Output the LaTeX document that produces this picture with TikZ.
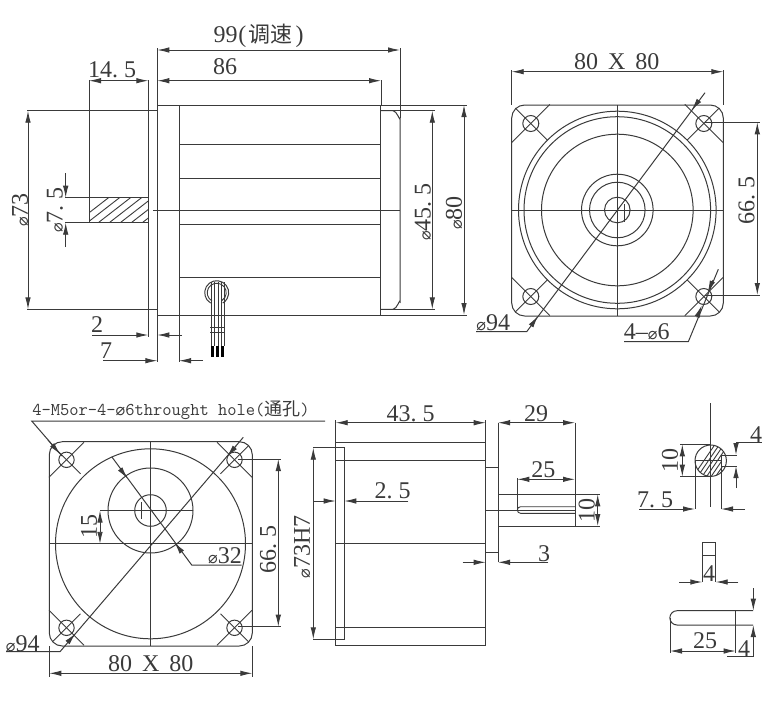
\documentclass[tikz,border=0pt]{standalone}
\usepackage{fontspec}
\newfontfamily\cjk{Noto Sans CJK SC}
\newfontfamily\dejavu{DejaVu Sans}
\newfontfamily\dimfont{Liberation Serif}
\usetikzlibrary{arrows.meta}
\definecolor{ink}{RGB}{58,58,58}
\newcommand{\dia}{{\dejavu\fontsize{16}{16}\selectfont ⌀}}
\newcommand{\pt}{.\hspace{6pt}}
\tikzset{
  dimtext/.style={inner sep=0,outer sep=0,text=ink,font=\dimfont\fontsize{24}{24}\selectfont},
  smalltext/.style={inner sep=0,outer sep=0,text=ink,font=\ttfamily\fontsize{18}{18}\selectfont},
  part/.style={draw=ink,line width=1pt},
  thin part/.style={draw=ink,line width=0.9pt},
  dimline/.style={draw=ink,line width=0.9pt,>={Latex[length=12pt,width=5.5pt]}}
}

\begin{document}
\begin{tikzpicture}[x=1pt,y=-1pt]
\useasboundingbox (0,0) rectangle (774,702);

%side view of motor
\draw [part] (157.3,48) -- (157.3,362);
\draw [part] (179,105) -- (179,362);
\draw [part] (157.3,105) -- (380,105) (157.3,315) -- (380,315);
\draw [part] (380,105) -- (380,315);
\foreach \y in {144.3,178,224.7,277.3}{
  \draw [part] (179,\y) -- (380,\y);
}
\draw [part] (153,210) -- (400,210);
\draw [part] (148.3,80) -- (148.3,337);
\draw [part] (380,110.7) -- (393,110.7) to[out=0,in=270] (400,118) -- (400,302) to[out=90,in=0] (393,309.3) -- (380,309.3);
\draw [thin part] (400,48) -- (400,118);
%shaft with hatch
\draw [part] (89,80) -- (89,222.7) -- (148.3,222.7) (89,197.7) -- (148.3,197.7);
\begin{scope}
  \clip (89,197.7) rectangle (148.3,222.7);
  \foreach \i in {0,...,8}{
    \draw [thin part] ({72+\i*11},226) -- ({112+\i*11},195);
  }
\end{scope}

%wires
\draw [part] ({216.7+12*cos(120)},{292.7+12*sin(120)}) arc[start angle=120,end angle=420,radius=12];
\draw [thin part] ({216.7+9.5*cos(120)},{292.7+9.5*sin(120)}) arc[start angle=120,end angle=420,radius=9.5];
\foreach \x in {211,214.5,218,221.5,224.5}{
  \draw [thin part] (\x,282) -- (\x,346);
}
\draw [thin part] (210,327.5) -- (225,327.5) (210,332) -- (225,332);
\draw [draw=black,line width=2.6pt] (212.7,346) -- (212.7,357.3) (217.7,346) -- (217.7,357.3) (222.7,346) -- (222.7,357.3);

%side view dimensions
\draw [part] (27,110.7) -- (157.3,110.7) (27,309.3) -- (157.3,309.3);
\draw [part] (380,105) -- (467,105) (380,315) -- (467,315);
\draw [part] (393,110.7) -- (435,110.7) (393,309.3) -- (435,309.3);
\draw [part] (381,80) -- (381,105);
\draw [part] (65,197.7) -- (89,197.7) (65,222.7) -- (89,222.7);
\draw [dimline,<->] (157.3,50) -- (400,50);
\draw [dimline,<->] (157.3,80.7) -- (381,80.7);
\draw [dimline,<->] (89,80.7) -- (148.3,80.7);
\draw [dimline,<->] (28,110.7) -- (28,309.3);
\draw [dimline,<->] (432.3,110.7) -- (432.3,309.3);
\draw [dimline,<->] (464,105) -- (464,315);
\draw [dimline,->] (65.7,173) -- (65.7,197.7);
\draw [dimline,->] (65.7,247) -- (65.7,222.7);
\draw [dimline,->] (92,335) -- (148.3,335);
\draw [dimline,->] (182,335) -- (157.3,335);
\draw [dimline,->] (103,360.7) -- (157.3,360.7);
\draw [dimline,->] (203,360.7) -- (179,360.7);

\node (t99) at (258.5,36) [dimtext] {99\hspace{1pt}(\hspace{2pt}{\cjk\fontsize{22}{22}\selectfont 调速}\hspace{3pt})};
\node (t86) at (225,67) [dimtext] {86};
\node (t145) at (112,70) [dimtext] {14\pt5};
\node (t73) at (20,210) [dimtext,rotate=90] {\dia73};
\node (t75) at (55,210) [dimtext,rotate=90] {\dia7\pt5};
\node (t455) at (423,212) [dimtext,rotate=90] {\dia45\pt5};
\node (t80) at (454,213) [dimtext,rotate=90] {\dia80};
\node (t2) at (97,325) [dimtext] {2};
\node (t7) at (106,351) [dimtext] {7};

%front view of motor
\coordinate (fc) at (617.3,210);
\draw [part,rounded corners=13] (511.7,105) rectangle (723.3,316);
\draw [part] (617.3,105) -- (617.3,316) (511.7,210) -- (723.3,210);
\foreach \r in {98.8,93.3,75.8,35.8,27.8,12.8}{
  \draw [part] (fc) circle (\r);
}
\draw [thin part] (624,204) -- (624,222);
\foreach \sx/\sy in {-1/-1,1/-1,-1/1,1/1}{
  \draw [part] ({617.3+\sx*86.5},{210+\sy*86.5}) circle (8);
  \draw [thin part] ({617.3+\sx*105.6},{210+\sy*67.5}) -- ({617.3+\sx*67.5},{210+\sy*105.6});
  \draw [thin part] ({617.3+\sx*102},{210+\sy*102}) -- ({617.3+\sx*70},{210+\sy*70});
}
%front view dimensions
\draw [part] (511.7,70) -- (511.7,105) (723.3,70) -- (723.3,105);
\draw [part] (705,122.3) -- (760,122.3) (705,295) -- (760,295);
\draw [dimline,<->] (511.7,71.7) -- (723.3,71.7);
\draw [dimline,<->] (757.3,122.3) -- (757.3,295);
\draw [part] (705,92.7) -- (526.7,331.7) -- (476,331.7);
\draw [dimline,->] (698.5,101) -- (691.7,110);
\draw [dimline,->] (531,326) -- (538,316);
\draw [part] (718.3,269.3) -- (688.3,341.7) -- (624,341.7);
\draw [dimline,->] (713,280) -- (707.7,292.5);
\draw [dimline,->] (697,317.5) -- (701.7,305.5);

\node (t8080a) at (616.7,61.7) [dimtext] {80\hspace{10pt}X\hspace{10pt}80};
\node (t665a) at (746.7,200) [dimtext,rotate=90] {66\pt5};
\node (t94a) at (493.3,322.7) [dimtext] {\dia94};
\node (t46) at (646.7,331.7) [dimtext] {4–\dia6};

%flange view
\coordinate (rc) at (150.5,543.8);
\draw [part,rounded corners=13] (49.3,441.7) rectangle (252.3,646);
\draw [part] (150.5,441.7) -- (150.5,646) (49.3,543.8) -- (252.3,543.8);
\draw [part] (rc) circle (95);
\draw [part] (150.5,510.5) circle (42.5) circle (15.8);
\draw [thin part] (141.5,502) -- (141.5,519);
\foreach \sx/\sy in {-1/-1,1/-1,-1/1,1/1}{
  \draw [part] ({150.5+\sx*84},{543.8+\sy*84}) circle (7.7);
  \draw [thin part] ({150.5+\sx*101.5},{543.8+\sy*66.5}) -- ({150.5+\sx*66.5},{543.8+\sy*101.5});
  \draw [thin part] ({150.5+\sx*98},{543.8+\sy*98}) -- ({150.5+\sx*70},{543.8+\sy*70});
}
%flange view dimensions
\draw [part] (100,510.5) -- (193,510.5);
\draw [dimline,<->] (100,510.5) -- (100,543.8);
\draw [part] (111.7,456.7) -- (191.7,565) -- (241.7,565);
\draw [dimline,->] (121,470) -- (127.5,478.5);
\draw [dimline,->] (181,551) -- (174.5,542.5);
\draw [part] (243.3,437.3) -- (60,651.7) -- (6,651.7);
\draw [dimline,->] (236,446) -- (227,456.5);
\draw [dimline,->] (68,642) -- (75.5,633.5);
\draw [part] (325,421) -- (31.7,421) -- (62,456);
\draw [dimline,->] (48,440) -- (60,454);
\draw [part] (238,459) -- (281,459) (238,626.7) -- (281,626.7);
\draw [dimline,<->] (278.3,459) -- (278.3,626.7);
\draw [part] (49.3,646) -- (49.3,677) (252.3,646) -- (252.3,677);
\draw [dimline,<->] (49.3,673.3) -- (252.3,673.3);

\node (thole) at (171,410) [smalltext] {4-M5or-4-\dia6throught hole({\cjk 通孔})};
\node (t15) at (89,526.7) [dimtext,rotate=90] {15};
\node (t32) at (225,555.7) [dimtext] {\dia32};
\node (t94b) at (22.7,643.3) [dimtext] {\dia94};
\node (t665b) at (268,549) [dimtext,rotate=90] {66\pt5};
\node (t8080b) at (150.7,663.3) [dimtext] {80\hspace{10pt}X\hspace{10pt}80};

%side view with output shaft
\draw [part] (335.7,442.3) rectangle (485.7,645.7);
\draw [part] (335.7,420) -- (335.7,442.3) (485.7,420) -- (485.7,442.3);
\foreach \y in {460,543.3,627.3}{
  \draw [part] (335.7,\y) -- (485.7,\y);
}
\draw [part] (313,447.7) -- (344.3,447.7) -- (344.3,639.3) -- (313,639.3);
\draw [part] (498,422.7) -- (498,562.3);
\draw [part] (485.7,467.7) -- (498,467.7) (485.7,552.3) -- (498,552.3);
\draw [part] (485.7,510) -- (575,510);
\draw [part] (498,494.3) -- (600,494.3) (498,526) -- (600,526);
\draw [part] (575,422.7) -- (575,526);
\draw [part] (517.3,478) -- (517.3,510);
\draw [thin part] (575,506.7) -- (520.6,506.7) arc[start angle=270,end angle=90,radius=3.3] -- (575,513.3);
%shaft dimensions
\draw [dimline,<->] (335.7,422.7) -- (485.7,422.7);
\draw [dimline,<->] (498,422.7) -- (575,422.7);
\draw [dimline,<->] (517.3,479.3) -- (575,479.3);
\draw [dimline,<->] (597.7,494.3) -- (597.7,526);
\draw [dimline,<->] (313.3,447.7) -- (313.3,639.3);
\draw [dimline,->] (313.3,501) -- (335.7,501);
\draw [dimline,->] (408.3,501) -- (344.3,501);
\draw [dimline,->] (462.7,562.3) -- (485.7,562.3);
\draw [dimline,->] (548.3,562.3) -- (498,562.3);

\node (t435) at (410.7,414) [dimtext] {43\pt5};
\node (t29) at (536,413.3) [dimtext] {29};
\node (t25a) at (543.3,469.3) [dimtext] {25};
\node (t10a) at (586.7,510) [dimtext,rotate=90] {10};
\node (t73h) at (302,547) [dimtext,rotate=90] {\dia73H7};
\node (t25b) at (392.7,491) [dimtext] {2\pt5};
\node (t3) at (544,553.3) [dimtext] {3};

%shaft section
\begin{scope}
  \clip (710.7,460.7) circle (15.7);
  \foreach \i in {0,...,12}{
    \draw [thin part] ({688+\i*4.5},484) -- ({718+\i*4.5},440);
  }
  \fill [white] (721,455) rectangle (728,466);
\end{scope}
\draw [part] (710.7,460.7) circle (15.7);
\draw [part] (710.7,403) -- (710.7,506.7);
\draw [thin part] (695,460.7) -- (721,460.7);
\draw [part] (721,455) -- (737,455) (721,466) -- (737,466);
\draw [part] (721,455) -- (721,509);
\draw [part] (695,460) -- (695,509);
\draw [part] (680,444.3) -- (710.7,444.3) (680,476.7) -- (710.7,476.7);
\draw [dimline,<->] (682.3,444.3) -- (682.3,476.7);
\draw [dimline,->] (736,442.7) -- (736,455);
\draw [dimline,->] (736,488) -- (736,466);
\draw [part] (736,442.7) -- (761.7,442.7);
\draw [dimline,->] (639.3,509) -- (695,509);
\draw [dimline,->] (745,509) -- (721,509);

\node (t10b) at (670,460) [dimtext,rotate=90] {10};
\node (t4a) at (756,434.3) [dimtext] {4};
\node (t75b) at (655,500) [dimtext] {7\pt5};

%key
\draw [part] (702.3,582) -- (702.3,542.7) -- (715.7,542.7) -- (715.7,582);
\draw [part] (702.3,555) -- (715.7,555);
\draw [dimline,->] (679.3,582) -- (702.3,582);
\draw [dimline,->] (738.3,582) -- (715.7,582);
\draw [part] (753,610.7) -- (677,610.7) arc[start angle=270,end angle=90,radius=7.15] -- (753,625);
\draw [part] (670,617.8) -- (670,653) (735.7,610.7) -- (735.7,653);
\draw [dimline,<->] (670,651) -- (735.7,651);
\draw [dimline,->] (753.3,588.3) -- (753.3,610.7);
\draw [dimline,->] (753.3,656.7) -- (753.3,625);
\draw [part] (753.3,656.7) -- (727.3,656.7);

\node (t4b) at (709,573.3) [dimtext] {4};
\node (t25c) at (705,640.7) [dimtext] {25};
\node (t4c) at (744,648.3) [dimtext] {4};

\end{tikzpicture}
\end{document}
